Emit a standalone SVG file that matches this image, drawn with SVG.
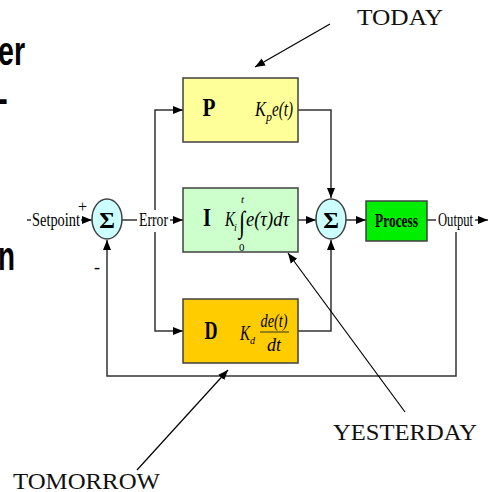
<svg xmlns="http://www.w3.org/2000/svg" width="491" height="492" viewBox="0 0 491 492">
<style>
.box{stroke:#404040;stroke-width:1.5}
.ln{fill:none;stroke:#333;stroke-width:1.5}
.an{fill:none;stroke:#000;stroke-width:1.2}
.sum{fill:#ccffff;stroke:#404040;stroke-width:1.5}
.t{font-family:"Liberation Serif",serif;fill:#000}
.big{font-family:"Liberation Sans",Arial,sans-serif;font-weight:bold;fill:#000}
.lbl{font-family:"Liberation Serif",serif;fill:#111;font-size:23px}
.it{font-style:italic}
</style>
<defs>
<marker id="ah" markerUnits="userSpaceOnUse" markerWidth="10" markerHeight="10" viewBox="0 0 10 10" refX="10" refY="5" orient="auto"><path d="M0,1 L10,5 L0,9 z" fill="#000"/></marker>
</defs>
<rect width="491" height="492" fill="#fff"/>
<g id="left-text">
<text class="big" x="-2" y="65" font-size="40" textLength="27" lengthAdjust="spacingAndGlyphs">er</text>
<text class="big" x="-4" y="112" font-size="40" textLength="12" lengthAdjust="spacingAndGlyphs">-</text>
<text class="big" x="-2" y="270" font-size="40" textLength="17" lengthAdjust="spacingAndGlyphs">n</text>
</g>
<g id="connectors">
<line class="ln" x1="27" y1="220" x2="31" y2="220"/>
<line class="ln" x1="81" y1="220" x2="92" y2="220" marker-end="url(#ah)"/>
<line class="ln" x1="122" y1="220" x2="137" y2="220"/>
<line class="ln" x1="170" y1="220" x2="183" y2="220" marker-end="url(#ah)"/>
<polyline class="ln" points="155,210 155,110 183,110" marker-end="url(#ah)"/>
<polyline class="ln" points="155,232 155,331 183,331" marker-end="url(#ah)"/>
<polyline class="ln" points="298,110 331,110 331,198" marker-end="url(#ah)"/>
<line class="ln" x1="298" y1="220" x2="316" y2="220" marker-end="url(#ah)"/>
<polyline class="ln" points="298,331 331,331 331,240" marker-end="url(#ah)"/>
<line class="ln" x1="346" y1="220" x2="366" y2="220" marker-end="url(#ah)"/>
<line class="ln" x1="427" y1="220" x2="436" y2="220"/>
<line class="ln" x1="475" y1="220" x2="488" y2="220" marker-end="url(#ah)"/>
<polyline class="ln" points="456,232 456,376 107,376 107,240" marker-end="url(#ah)"/>
<line class="an" x1="330" y1="24" x2="255" y2="67" marker-end="url(#ah)"/>
<line class="an" x1="405" y1="412" x2="288" y2="253" marker-end="url(#ah)"/>
<line class="an" x1="137" y1="470" x2="228" y2="370" marker-end="url(#ah)"/>
</g>
<g id="setpoint">
<text class="t" x="32" y="226" font-size="18" textLength="48" lengthAdjust="spacingAndGlyphs">Setpoint</text>
<text class="t" x="78" y="212" font-size="16">+</text>
<text class="t" x="94" y="273" font-size="18">-</text>
</g>
<g id="sum1">
<ellipse class="sum" cx="107" cy="219" rx="15" ry="20"/>
<text class="t" x="107" y="228" font-size="24" font-weight="bold" text-anchor="middle">Σ</text>
</g>
<g id="error">
<text class="t" x="139" y="226" font-size="18" textLength="29" lengthAdjust="spacingAndGlyphs">Error</text>
</g>
<g id="P">
<rect class="box" x="183" y="78" width="115" height="64" fill="#ffff99"/>
<text class="t" x="209" y="116" font-size="26" font-weight="bold" text-anchor="middle" textLength="13" lengthAdjust="spacingAndGlyphs">P</text>
<text class="t it" x="255" y="116" font-size="20" textLength="11" lengthAdjust="spacingAndGlyphs">K</text>
<text class="t it" x="266" y="121" font-size="12">p</text>
<text class="t it" x="272" y="116" font-size="20" textLength="21" lengthAdjust="spacingAndGlyphs">e(t)</text>
</g>
<g id="I">
<rect class="box" x="183" y="188" width="115" height="64" fill="#ccffcc"/>
<text class="t" x="207" y="226" font-size="26" font-weight="bold" text-anchor="middle" textLength="8" lengthAdjust="spacingAndGlyphs">I</text>
<text class="t it" x="225" y="226" font-size="20" textLength="10" lengthAdjust="spacingAndGlyphs">K</text>
<text class="t it" x="234" y="231" font-size="10">i</text>
<text class="t" x="239" y="232" font-size="30" textLength="6" lengthAdjust="spacingAndGlyphs">∫</text>
<text class="t it" x="241" y="203" font-size="11">t</text>
<text class="t" x="239" y="251" font-size="11">0</text>
<text class="t it" x="246" y="226" font-size="20" textLength="43" lengthAdjust="spacingAndGlyphs">e(τ)dτ</text>
</g>
<g id="D">
<rect class="box" x="183" y="299" width="115" height="64" fill="#ffcc00"/>
<text class="t" x="211" y="339" font-size="26" font-weight="bold" text-anchor="middle" textLength="13" lengthAdjust="spacingAndGlyphs">D</text>
<text class="t it" x="240" y="340" font-size="20" textLength="10" lengthAdjust="spacingAndGlyphs">K</text>
<text class="t it" x="250" y="344" font-size="10">d</text>
<text class="t it" x="274" y="327" font-size="18" text-anchor="middle" textLength="27" lengthAdjust="spacingAndGlyphs">de(t)</text>
<line x1="260" y1="332" x2="289" y2="332" stroke="#333" stroke-width="1"/>
<text class="t it" x="274" y="351" font-size="18" text-anchor="middle" textLength="14" lengthAdjust="spacingAndGlyphs">dt</text>
</g>
<g id="sum2">
<ellipse class="sum" cx="331" cy="219" rx="15" ry="20"/>
<text class="t" x="331" y="228" font-size="24" font-weight="bold" text-anchor="middle">Σ</text>
</g>
<g id="process">
<rect class="box" x="366" y="201" width="61" height="40" fill="#00ee00"/>
<text class="t" x="396.5" y="227" font-size="18" font-weight="bold" text-anchor="middle" textLength="43" lengthAdjust="spacingAndGlyphs">Process</text>
</g>
<g id="output">
<text class="t" x="438" y="226" font-size="18" textLength="35" lengthAdjust="spacingAndGlyphs">Output</text>
</g>
<g id="annotations">
<text class="lbl" x="357" y="25" textLength="86" lengthAdjust="spacingAndGlyphs">TODAY</text>
<text class="lbl" x="333" y="440" textLength="144" lengthAdjust="spacingAndGlyphs">YESTERDAY</text>
<text class="lbl" x="13" y="489" textLength="147" lengthAdjust="spacingAndGlyphs">TOMORROW</text>
</g>
</svg>
